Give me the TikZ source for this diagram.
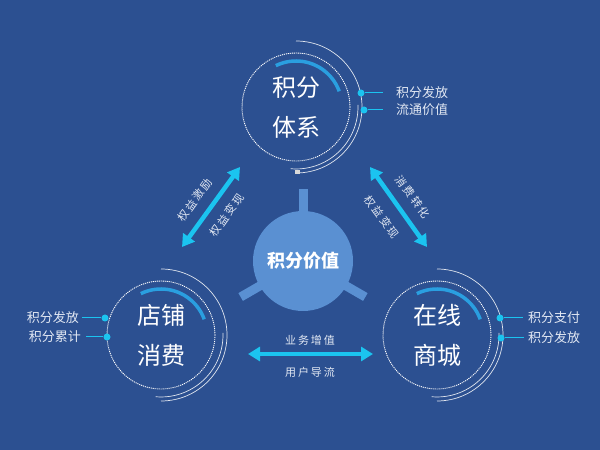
\documentclass[tikz,border=0pt]{standalone}
\usepackage{fontspec}
\setmainfont{Noto Sans CJK SC}
\usetikzlibrary{arrows.meta}
\definecolor{bg}{HTML}{2C5091}
\definecolor{cyanc}{HTML}{1BC4F0}
\definecolor{bluearc}{HTML}{2A9FE0}
\definecolor{core}{HTML}{5A90D2}
\definecolor{labtxt}{HTML}{E2E8F3}
\tikzset{
  ring/.style={circle, draw=white, dash pattern=on 1.1pt off 0.9pt, line width=0.9pt,
    minimum size=108pt, inner sep=0pt, text=white, align=center,
    font=\fontsize{24}{40}\selectfont},
  arcline/.style={draw=white, draw opacity=0.85, line width=0.7pt},
  barc/.style={draw=bluearc, line width=3.5pt},
  dotc/.style={circle, fill=cyanc, minimum size=7pt, inner sep=0pt},
  lead/.style={draw=cyanc, line width=1pt},
  side/.style={text=labtxt, inner sep=0pt, font=\fontsize{13}{15}\selectfont},
  darr/.style={{Triangle[width=14pt,length=12pt]}-{Triangle[width=14pt,length=12pt]}, line width=4.5pt, draw=cyanc},
  alab/.style={text=labtxt, inner sep=0pt, font=\fontsize{11}{12}\selectfont\addfontfeatures{LetterSpace=18}},
  stub/.style={draw=core, line width=9pt}
}
\begin{document}
\begin{tikzpicture}[x=1pt,y=1pt]
\fill[bg] (0,0) rectangle (600,450);
\useasboundingbox (0,0) rectangle (600,450);

% circles
\node[ring] (top) at (296,343) {积分\\体系};
\node[ring] (shop) at (161,115) {店铺\\消费};
\node[ring] (mall) at (437,115) {在线\\商城};

% outer arcs and blue arcs
\foreach \c in {top,shop,mall}{
  \draw[arcline] ([shift={(90:66)}]\c.center) arc[start angle=90, end angle=-90, radius=66];
  \draw[arcline] ([shift={(2:62)}]\c.center) arc[start angle=2, end angle=-95, radius=62];
  \draw[barc] ([shift={(116:46)}]\c.center) arc[start angle=116, end angle=20, radius=46];
}
\fill[gray!30] (294.5,275.5) rectangle (299.5,279.5);

% top labels
\node[dotc] (td1) at (361,357) {};
\node[dotc] (td2) at (364,340) {};
\node[side, anchor=west] (tl1) at (396,357) {积分发放};
\node[side, anchor=west] (tl2) at (396,340) {流通价值};
\draw[lead, shorten >=13pt] (td1) -- (tl1.west);
\draw[lead, shorten >=13pt] (td2) -- (tl2.west);

% left labels
\node[dotc] (sd1) at (105,132) {};
\node[dotc] (sd2) at (107,113) {};
\node[side, anchor=east] (sl1) at (79,132) {积分发放};
\node[side, anchor=east] (sl2) at (81,113) {积分累计};
\draw[lead, shorten >=3pt] (sd1) -- (sl1.east);
\draw[lead, shorten >=5pt] (sd2) -- (sl2.east);

% right labels
\node[dotc] (md1) at (500,132) {};
\node[dotc] (md2) at (501,112) {};
\node[side, anchor=west] (ml1) at (528,132) {积分支付};
\node[side, anchor=west] (ml2) at (528,112) {积分发放};
\draw[lead, shorten >=5pt] (md1) -- (ml1.west);
\draw[lead, shorten >=4pt] (md2) -- (ml2.west);

% core
\coordinate (cc) at (303,189);
\draw[stub] (cc) -- ++(90:72);
\draw[stub] (cc) -- ++(210:72);
\draw[stub] (cc) -- ++(330:72);
\node[circle, fill=core, minimum size=100pt, inner sep=0pt, text=white,
  font=\bfseries\fontsize{18}{20}\selectfont] (value) at (cc) {积分价值};

% arrows
\coordinate (la1) at (182,203);
\coordinate (la2) at (240,283);
\coordinate (ra1) at (370,283);
\coordinate (ra2) at (427,203);
\coordinate (ba1) at (248,96);
\coordinate (ba2) at (373,96);
\draw[darr] (la1) -- (la2);
\draw[darr] (ra1) -- (ra2);
\draw[darr] (ba1) -- (ba2);

\node[alab, rotate=54] (lt1) at (195,250) {权益激励};
\node[alab, rotate=54] (lt2) at (227,235) {权益变现};
\node[alab, rotate=-54] (rt1) at (413,253) {消费转化};
\node[alab, rotate=-54] (rt2) at (382,233) {权益变现};
\node[alab] (bt1) at (310,110) {业务增值};
\node[alab] (bt2) at (310,78) {用户导流};
\end{tikzpicture}
\end{document}
